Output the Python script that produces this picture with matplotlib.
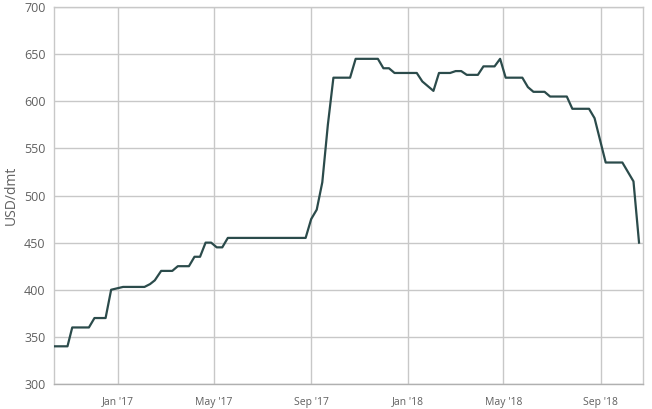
import matplotlib
matplotlib.use('Agg')
import matplotlib.pyplot as plt
import pandas as pd

# Цена, USD/dmt (точки излома линии)
dates = ['2016-10-12', '2016-10-29', '2016-11-04', '2016-11-25', '2016-12-02', '2016-12-16',
         '2016-12-23', '2017-01-07', '2017-02-03', '2017-02-10', '2017-02-16', '2017-02-24',
         '2017-03-10', '2017-03-17', '2017-03-31', '2017-04-07', '2017-04-14', '2017-04-21',
         '2017-04-28', '2017-05-05', '2017-05-12', '2017-05-19', '2017-08-25', '2017-09-01',
         '2017-09-08', '2017-09-15', '2017-09-22', '2017-09-29', '2017-10-20', '2017-10-27',
         '2017-11-24', '2017-12-01', '2017-12-08', '2017-12-15', '2018-01-12', '2018-01-19',
         '2018-01-26', '2018-02-02', '2018-02-09', '2018-02-23', '2018-03-02', '2018-03-09',
         '2018-03-16', '2018-03-30', '2018-04-06', '2018-04-20', '2018-04-27', '2018-05-04',
         '2018-05-25', '2018-06-01', '2018-06-08', '2018-06-22', '2018-06-29', '2018-07-20',
         '2018-07-27', '2018-08-17', '2018-08-24', '2018-09-07', '2018-09-28', '2018-10-12',
         '2018-10-19']
prices = [340, 340, 360, 360, 370, 370,
          400, 403, 403, 406, 410, 420,
          420, 425, 425, 435, 435, 450,
          450, 445, 445, 455, 455, 475,
          485, 514, 575, 625, 625, 645,
          645, 635, 635, 630, 630, 621,
          616, 611, 630, 630, 632, 632,
          628, 628, 637, 637, 645, 625,
          625, 615, 610, 610, 605, 605,
          592, 592, 582, 535, 535, 515,
          450]

y_ticks = [300, 350, 400, 450, 500, 550, 600, 650, 700]
x_ticks = ['2017-01-01', '2017-05-01', '2017-09-01', '2018-01-01', '2018-05-01', '2018-09-01']
x_labels = ["Jan '17", "May '17", "Sep '17", "Jan '18", "May '18", "Sep '18"]

plt.rcParams['font.family'] = ['Open Sans', 'DejaVu Sans']

x = pd.to_datetime(dates)
fig = plt.figure(figsize=(6.52, 4.09), dpi=100)
ax = fig.add_axes([0.0828, 0.0611, 0.9034, 0.9218])

ax.plot(x, prices, color='#2b4b4b', linewidth=1.6, zorder=3)

ax.set_ylim(300, 700)
ax.set_yticks(y_ticks)
ax.set_xlim(x[0], pd.Timestamp('2018-10-24'))
ax.set_xticks(pd.to_datetime(x_ticks))
ax.set_xticklabels(x_labels)

ax.grid(True, color='#c8c8c8', linewidth=1)
for s in ax.spines.values():
    s.set_color('#c8c8c8')
    s.set_linewidth(1)
ax.spines['bottom'].set_color('#b0b0b0')
ax.tick_params(axis='both', length=0, colors='#606060')
ax.tick_params(axis='y', labelsize=9, pad=6)
ax.tick_params(axis='x', labelsize=7.5, pad=9)
ax.set_ylabel('USD/dmt', fontsize=10, color='#606060', labelpad=4)

fig.savefig('out.png', dpi=100)
